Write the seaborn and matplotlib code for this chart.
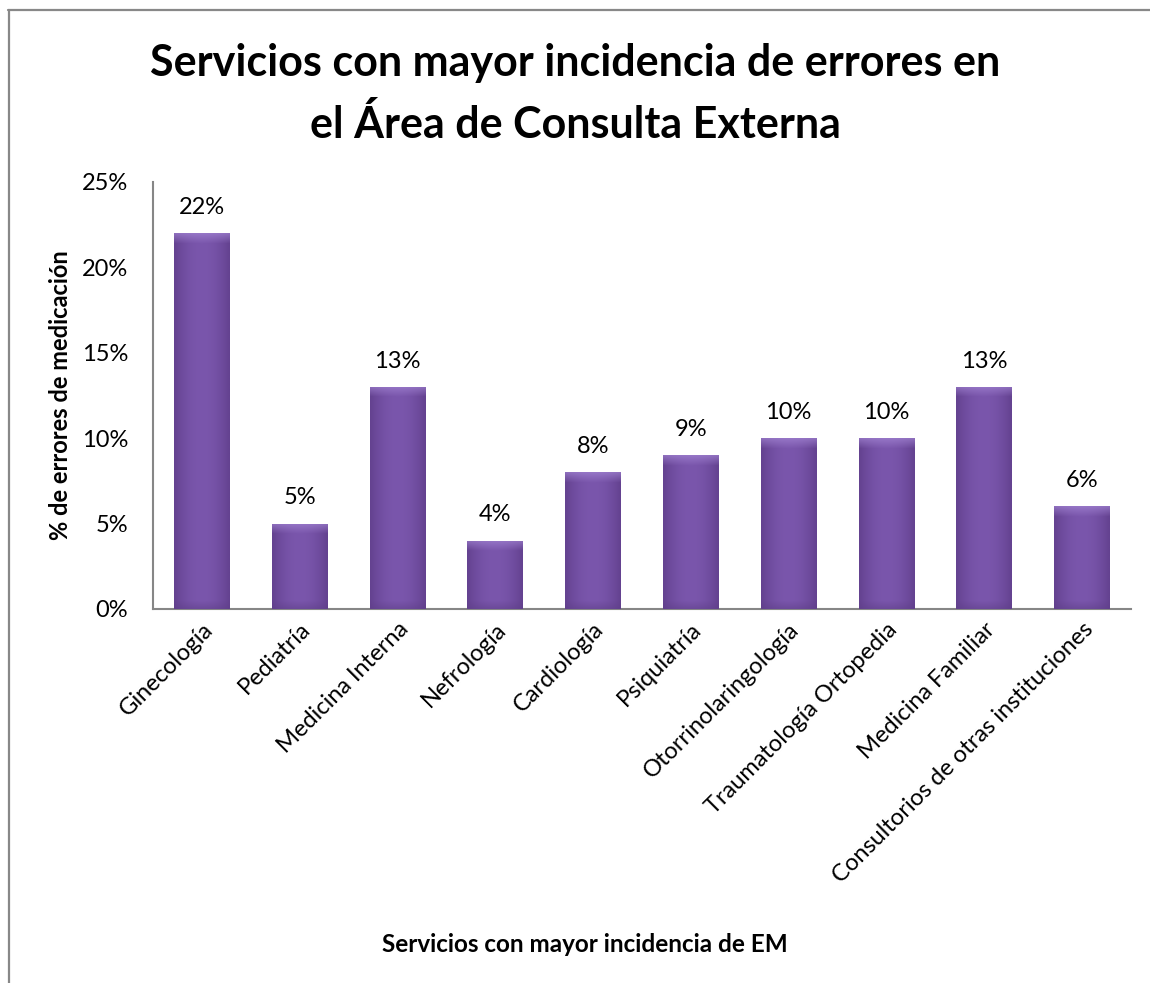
import numpy as np
import pandas as pd
import matplotlib
matplotlib.use("Agg")
import matplotlib.pyplot as plt
import seaborn as sns
from matplotlib.lines import Line2D
from matplotlib.ticker import PercentFormatter

servicios = ["Ginecología", "Pediatría", "Medicina Interna", "Nefrología", "Cardiología",
             "Psiquiatría", "Otorrinolaringología", "Traumatología Ortopedia",
             "Medicina Familiar", "Consultorios de otras instituciones"]
porcentaje = [0.22, 0.05, 0.13, 0.04, 0.08, 0.09, 0.10, 0.10, 0.13, 0.06]
etiquetas = ["22%", "5%", "13%", "4%", "8%", "9%", "10%", "10%", "13%", "6%"]

df = pd.DataFrame({"servicio": servicios, "pct": porcentaje})

sns.set_style("white")
plt.rcParams["font.family"] = ["Lato", "DejaVu Sans"]
plt.rcParams["text.color"] = "black"
plt.rcParams["axes.labelcolor"] = "black"
plt.rcParams["xtick.color"] = "black"
plt.rcParams["ytick.color"] = "black"

fig = plt.figure(figsize=(11.5, 9.83), dpi=100)
ax = fig.add_axes([0.1330, 0.3805, 0.8504, 0.4344])

sns.barplot(data=df, x="servicio", y="pct", color="#7651a6", width=0.57,
            saturation=1, ax=ax, zorder=2)

# cylinder-like shading on each bar
base = np.array([0x64, 0x42, 0x90]) / 255
mid = np.array([0x7a, 0x56, 0xac]) / 255
hi = np.array([0xa4, 0x86, 0xd4]) / 255
dark = np.array([0x5e, 0x3e, 0x88]) / 255
ymax = 0.25
for p in ax.patches:
    x0, w, h = p.get_x(), p.get_width(), p.get_height()
    rows = max(int(h / ymax * 427), 2)
    cols = 40
    t = np.abs(np.linspace(-1, 1, cols)) ** 2
    row = base[None, :] * t[:, None] + mid[None, :] * (1 - t[:, None])
    img = np.repeat(row[None, :, :], rows, axis=0)
    top = min(10, rows)
    for r in range(top):
        f = 1 - r / top
        img[r] = img[r] * (1 - 0.65 * f) + hi * 0.65 * f
    bot = min(8, rows)
    for r in range(bot):
        f = 1 - r / bot
        img[rows - 1 - r] = img[rows - 1 - r] * (1 - 0.5 * f) + dark * 0.5 * f
    im = ax.imshow(img, extent=[x0, x0 + w, 0, h], aspect="auto", zorder=3,
                   interpolation="bilinear")
    im.set_clip_path(p)
    p.set_edgecolor("none")

for i, (v, lab) in enumerate(zip(porcentaje, etiquetas)):
    ax.text(i, v + 0.009, lab, ha="center", va="bottom", fontsize=17, zorder=4)

ax.set_xlim(-0.5, len(servicios) - 0.5)
ax.set_ylim(0, ymax)
ax.set_yticks(np.arange(0, 0.26, 0.05))
ax.yaxis.set_major_formatter(PercentFormatter(1.0, decimals=0))
ax.tick_params(axis="y", labelsize=17, length=0, pad=18)
ax.tick_params(axis="x", labelsize=17, length=0, pad=7)
plt.setp(ax.get_xticklabels(), rotation=45, ha="right", rotation_mode="anchor")

for s in ["top", "right"]:
    ax.spines[s].set_visible(False)
for s in ["left", "bottom"]:
    ax.spines[s].set_color("#868686")
    ax.spines[s].set_linewidth(1.5)

ax.set_xlabel("")
ax.set_ylabel("% de errores de medicación", fontsize=17, fontweight="bold", labelpad=7)

fig.text(0.5, 1 - 94 / 983, "Servicios con mayor incidencia de errores en\nel Área de Consulta Externa",
         ha="center", va="center", fontsize=31, fontweight="bold", linespacing=1.6)
fig.text(585 / 1150, 1 - 944 / 983, "Servicios con mayor incidencia de EM",
         ha="center", va="center", fontsize=17.5, fontweight="bold")

# outer frame (left and top edges visible)
fig.add_artist(Line2D([8.5 / 1150, 8.5 / 1150], [0, 1 - 10 / 983], color="#888888", lw=1.6))
fig.add_artist(Line2D([8 / 1150, 1], [1 - 10 / 983, 1 - 10 / 983], color="#888888", lw=1.6))

fig.savefig("out.png", dpi=100)
